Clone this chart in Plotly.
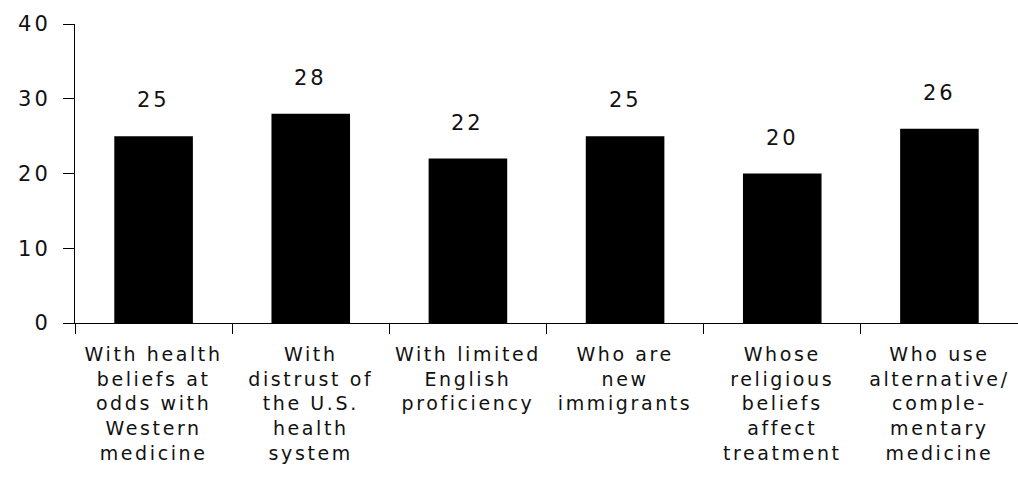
import plotly.graph_objects as go

categories = [
    "With health<br>beliefs at<br>odds with<br>Western<br>medicine",
    "With<br>distrust of<br>the U.S.<br>health<br>system",
    "With limited<br>English<br>proficiency",
    "Who are<br>new<br>immigrants",
    "Whose<br>religious<br>beliefs<br>affect<br>treatment",
    "Who use<br>alternative/<br>comple-<br>mentary<br>medicine",
]
values = [25, 28, 22, 25, 20, 26]
y_ticks = [0, 10, 20, 30, 40]

FONT = "DejaVu Sans"
fig = go.Figure()
fig.add_trace(go.Bar(
    x=list(range(len(categories))), y=values,
    marker=dict(color="black", line=dict(width=0)),
    width=0.5, hoverinfo="skip",
))
for i, v in enumerate(values):
    fig.add_annotation(x=i, y=v, text=str(v), showarrow=False,
                       yanchor="bottom", yshift=22,
                       font=dict(family=FONT, size=21, color="#111"))

fig.update_layout(
    width=1018, height=485,
    margin=dict(l=75, r=0, t=24, b=162),
    paper_bgcolor="white", plot_bgcolor="white",
    showlegend=False,
    font=dict(family=FONT, color="#111"),
)
fig.update_xaxes(
    range=[-0.5, 5.5],
    tickmode="array",
    tickvals=list(range(len(categories))),
    ticktext=categories,
    showline=True, linecolor="black", linewidth=1,
    showgrid=False, zeroline=False,
    ticks="", tickfont=dict(family=FONT, size=19, color="#111"),
    ticklabelstandoff=14,
)
fig.update_xaxes(minor=dict(tickmode="array",
                            tickvals=[i - 0.5 for i in range(len(categories) + 1)],
                            ticks="outside", ticklen=10, tickcolor="black", tickwidth=1))
fig.update_yaxes(
    range=[0, 40],
    tickmode="array", tickvals=y_ticks,
    showline=True, linecolor="black", linewidth=1,
    showgrid=False, zeroline=False,
    ticks="outside", ticklen=11, tickcolor="black",
    tickfont=dict(family=FONT, size=21, color="#111"),
    ticklabelstandoff=8,
)

post = """
var gd = document.getElementsByClassName('plotly-graph-div')[0];
function spread(){
  gd.querySelectorAll('.xtick text').forEach(function(t){t.style.letterSpacing='2.6px';});
  gd.querySelectorAll('.ytick text').forEach(function(t){t.style.letterSpacing='3px';});
  gd.querySelectorAll('.annotation-text').forEach(function(t){t.style.letterSpacing='3px';});
}
spread();
gd.on('plotly_afterplot', spread);
"""
fig.write_html("out.html", post_script=post)
